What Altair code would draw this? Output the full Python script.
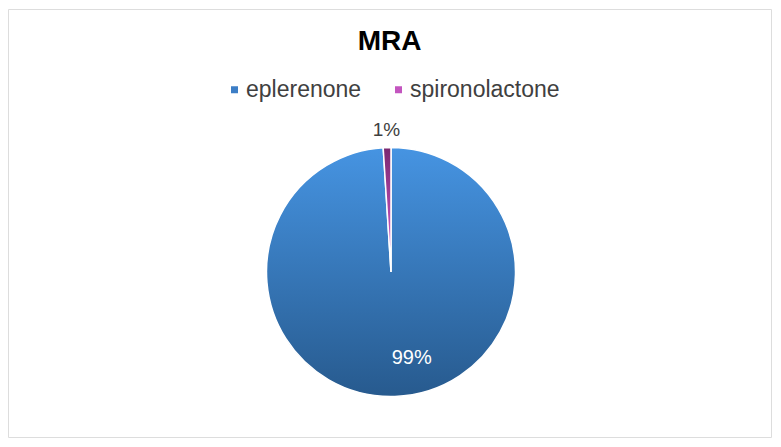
import altair as alt
import pandas as pd

names = ["eplerenone", "spironolactone"]
values = [99, 1]
labels = ["99%", "1%"]
order = [1, 2]

df = pd.DataFrame({"name": names, "value": values, "label": labels, "ord": order})

CX, CY = 383, 263
R = 124.5
FONT = "Liberation Sans"

grad_blue = alt.LinearGradient(
    gradient="linear", x1=0, x2=0, y1=0, y2=1,
    stops=[alt.GradientStop(offset=0, color="#4694e2"),
           alt.GradientStop(offset=1, color="#275a8e")],
)
grad_purple = alt.LinearGradient(
    gradient="linear", x1=0, x2=0, y1=0, y2=1,
    stops=[alt.GradientStop(offset=0, color="#7a2870"),
           alt.GradientStop(offset=0.6, color="#b84aae"),
           alt.GradientStop(offset=1, color="#e590dc")],
)

base = (
    alt.Chart(df)
    .transform_joinaggregate(total="sum(value)")
    .transform_window(cum="sum(value)", sort=[alt.SortField("ord")], frame=[None, 0])
    .transform_calculate(
        start="(datum.cum - datum.value) / datum.total * 2 * PI",
        end="datum.cum / datum.total * 2 * PI",
        mid="(datum.cum - datum.value / 2) / datum.total * 2 * PI",
    )
)

pos = dict(x=alt.value(CX), y=alt.value(CY))

legend_layer = base.mark_arc(outerRadius=R, stroke="white", strokeWidth=1.5).encode(
    theta=alt.Theta("start:Q", scale=None),
    theta2=alt.Theta2("end:Q"),
    fill=alt.Fill(
        "name:N",
        scale=alt.Scale(domain=names, range=["#3c7ec6", "#c355bf"]),
        legend=alt.Legend(
            title=None, orient="none", direction="horizontal",
            legendX=215, legendY=69,
            symbolType="square", symbolSize=49, symbolStrokeWidth=0,
            labelFont=FONT, labelFontSize=23, labelColor="#404040",
            labelOffset=0, columnPadding=25, symbolOpacity=1,
        ),
    ),
    **pos,
)

blue_layer = base.transform_filter(alt.datum.name == "eplerenone").mark_arc(
    outerRadius=R, fill=grad_blue, stroke="white", strokeWidth=1.5
).encode(theta=alt.Theta("start:Q", scale=None), theta2=alt.Theta2("end:Q"), **pos)

purple_layer = base.transform_filter(alt.datum.name == "spironolactone").mark_arc(
    outerRadius=R, fill=grad_purple, stroke="white", strokeWidth=1.5
).encode(theta=alt.Theta("start:Q", scale=None), theta2=alt.Theta2("end:Q"), **pos)

text_out = base.transform_filter(alt.datum.name == "spironolactone").mark_text(
    radius=142, font=FONT, fontSize=19, color="#404040", baseline="middle", align="center"
).encode(theta=alt.Theta("mid:Q", scale=None), text="label:N", **pos)

text_in = base.transform_filter(alt.datum.name == "eplerenone").mark_text(
    radius=86, dx=18, font=FONT, fontSize=20, color="white", baseline="middle", align="center"
).encode(theta=alt.Theta("mid:Q", scale=None), text="label:N", **pos)

chart = (
    alt.layer(legend_layer, blue_layer, purple_layer, text_out, text_in)
    .properties(
        width=763, height=428,
        padding={"left": 8, "top": 9, "right": 10, "bottom": 10},
        autosize="none",
        title=alt.TitleParams(
            "MRA", font=FONT, fontSize=28, fontWeight="bold", color="#000000",
            anchor="middle", offset=0, dy=47, baseline="top",
        ),
    )
    .configure_view(stroke="#d9d9d9", strokeWidth=1.5)
    .configure(background="white")
)

chart.save("out.html", embed_options={"renderer": "svg", "actions": False})
